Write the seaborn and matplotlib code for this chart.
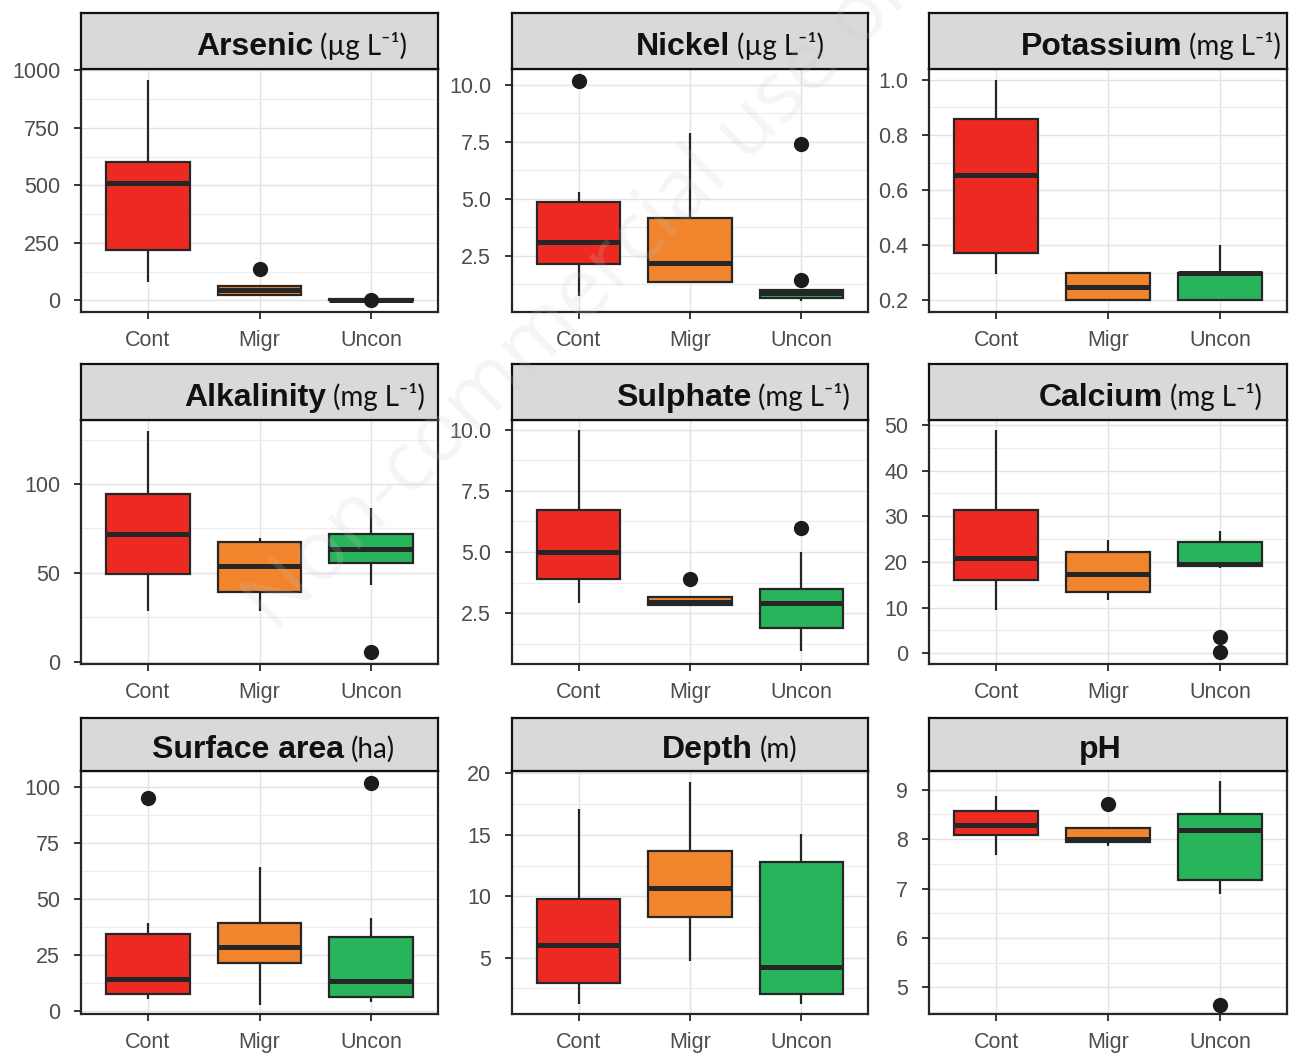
import matplotlib
matplotlib.use("Agg")
import numpy as np
import pandas as pd
import matplotlib.pyplot as plt
import seaborn as sns
from matplotlib.offsetbox import TextArea, HPacker, AnchoredOffsetbox
from matplotlib.ticker import FixedLocator, FixedFormatter

GROUPS = ["Cont", "Migr", "Uncon"]
PALETTE = {"Cont": "#EC2A22", "Migr": "#F0852D", "Uncon": "#28B45A"}

# Five-number summaries per group: lower whisker, Q1, median, Q3, upper whisker
arsenic = {"Cont": [80, 218, 512, 603, 960], "Migr": [20, 22, 44, 61, 64], "Uncon": [0, 1, 3, 5, 9]}
arsenic_out = {"Migr": [134], "Uncon": [2]}

nickel = {"Cont": [0.74, 2.13, 3.09, 4.85, 5.29], "Migr": [1.30, 1.32, 2.16, 4.15, 7.87],
          "Uncon": [0.50, 0.62, 0.84, 0.99, 1.00]}
nickel_out = {"Cont": [10.19], "Uncon": [7.40, 1.43]}

potassium = {"Cont": [0.297, 0.373, 0.655, 0.858, 1.0], "Migr": [0.2, 0.2, 0.248, 0.3, 0.3],
             "Uncon": [0.2, 0.2, 0.3, 0.3, 0.4]}
potassium_out = {}

alkalinity = {"Cont": [28.7, 49.3, 71.9, 94.2, 130], "Migr": [28.7, 39.0, 53.8, 67.2, 69.4],
              "Uncon": [43.2, 55.3, 63.2, 71.9, 86.3]}
alkalinity_out = {"Uncon": [5.3]}

sulphate = {"Cont": [2.91, 3.88, 5.0, 6.72, 10.0], "Migr": [2.84, 2.84, 2.95, 3.17, 3.17],
            "Uncon": [0.96, 1.91, 2.91, 3.47, 5.0]}
sulphate_out = {"Migr": [3.88], "Uncon": [5.97]}

calcium = {"Cont": [9.4, 16.1, 20.9, 31.4, 49.0], "Migr": [11.6, 13.4, 17.4, 22.1, 24.9],
           "Uncon": [18.7, 19.1, 19.6, 24.3, 26.8]}
calcium_out = {"Uncon": [3.5, 0.2]}

surface_area = {"Cont": [5.1, 7.3, 14.3, 34.3, 39.1], "Migr": [2.5, 21.5, 28.7, 39.4, 64.5],
                "Uncon": [4.0, 6.3, 13.3, 33.1, 41.3]}
surface_area_out = {"Cont": [95.1], "Uncon": [102.1]}

depth = {"Cont": [1.2, 2.9, 6.0, 9.8, 17.1], "Migr": [4.7, 8.3, 10.7, 13.7, 19.3],
         "Uncon": [1.2, 2.0, 4.2, 12.8, 15.1]}
depth_out = {}

ph = {"Cont": [7.67, 8.09, 8.28, 8.58, 8.88], "Migr": [7.87, 7.95, 8.0, 8.22, 8.22],
      "Uncon": [6.88, 7.17, 8.19, 8.51, 9.17]}
ph_out = {"Migr": [8.72], "Uncon": [4.65]}

# (name, unit, box data, outliers, y-limits, major ticks, tick labels, minor ticks, title centre)
PANELS = [
    ("Arsenic", "(µg L⁻¹)", arsenic, arsenic_out, (-51, 1006),
     [0, 250, 500, 750, 1000], ["0", "250", "500", "750", "1000"], [125, 375, 625, 875], 0.618),
    ("Nickel", "(µg L⁻¹)", nickel, nickel_out, (0.02, 10.7),
     [2.5, 5.0, 7.5, 10.0], ["2.5", "5.0", "7.5", "10.0"], [1.25, 3.75, 6.25, 8.75], 0.612),
    ("Potassium", "(mg L⁻¹)", potassium, potassium_out, (0.158, 1.039),
     [0.2, 0.4, 0.6, 0.8, 1.0], ["0.2", "0.4", "0.6", "0.8", "1.0"], [0.3, 0.5, 0.7, 0.9], 0.620),
    ("Alkalinity", "(mg L⁻¹)", alkalinity, alkalinity_out, (-1.3, 136),
     [0, 50, 100], ["0", "50", "100"], [25, 75, 125], 0.625),
    ("Sulphate", "(mg L⁻¹)", sulphate, sulphate_out, (0.42, 10.4),
     [2.5, 5.0, 7.5, 10.0], ["2.5", "5.0", "7.5", "10.0"], [1.25, 3.75, 6.25, 8.75], 0.621),
    ("Calcium", "(mg L⁻¹)", calcium, calcium_out, (-2.35, 51.1),
     [0, 10, 20, 30, 40, 50], ["0", "10", "20", "30", "40", "50"], [5, 15, 25, 35, 45], 0.617),
    ("Surface area", "(ha)", surface_area, surface_area_out, (-1.5, 107.3),
     [0, 25, 50, 75, 100], ["0", "25", "50", "75", "100"], [12.5, 37.5, 62.5, 87.5], 0.540),
    ("Depth", "(m)", depth, depth_out, (0.4, 20.2),
     [5, 10, 15, 20], ["5", "10", "15", "20"], [2.5, 7.5, 12.5, 17.5], 0.612),
    ("pH", "", ph, ph_out, (4.46, 9.38),
     [5, 6, 7, 8, 9], ["5", "6", "7", "8", "9"], [4.5, 5.5, 6.5, 7.5, 8.5], 0.478),
]

sns.set_style("white")
plt.rcParams["font.family"] = ["Liberation Sans", "DejaVu Sans"]

W, H = 1296, 1056
fig = plt.figure(figsize=(W / 100, H / 100), dpi=100)

# pixel frames: (strip top, panel top, panel bottom) per row; (left, right) per column
ROWS = [(13, 69, 312), (364, 420, 664), (718, 771, 1014)]
COLS = [(81, 438), (512, 868), (929, 1287)]

DARK = "#262626"
TICK_COL = "#4D4D4D"

for i, (name, unit, boxes, outs, ylim, majors, labels, minors, tx) in enumerate(PANELS):
    r, c = divmod(i, 3)
    st, pt, pb = ROWS[r]
    pl, pr = COLS[c]
    ax = fig.add_axes([pl / W, 1 - pb / H, (pr - pl) / W, (pb - pt) / H])
    sax = fig.add_axes([pl / W, 1 - pt / H, (pr - pl) / W, (pt - st) / H])

    long = pd.DataFrame([(g, v) for g in GROUPS for v in boxes[g]], columns=["group", "value"])
    sns.boxplot(data=long, x="group", y="value", hue="group", order=GROUPS, hue_order=GROUPS,
                palette=PALETTE, saturation=1, whis=(0, 100), width=0.75, showfliers=False,
                showcaps=False, linewidth=1.6, linecolor=DARK, legend=False,
                medianprops=dict(linewidth=3.6, color=DARK, solid_capstyle="butt"),
                ax=ax, zorder=3)

    out_rows = [(g, v) for g in GROUPS for v in outs.get(g, [])]
    if out_rows:
        odf = pd.DataFrame(out_rows, columns=["group", "value"])
        sns.stripplot(data=odf, x="group", y="value", order=GROUPS, jitter=False,
                      color="#1C1C1C", size=11, linewidth=0, ax=ax, zorder=4)

    ax.set_xlim(-0.6, 2.6)
    ax.set_ylim(*ylim)
    ax.set_xlabel("")
    ax.set_ylabel("")
    ax.yaxis.set_major_locator(FixedLocator(majors))
    ax.yaxis.set_major_formatter(FixedFormatter(labels))
    ax.yaxis.set_minor_locator(FixedLocator(minors))
    ax.set_axisbelow(True)
    ax.grid(which="major", axis="both", color="#E3E3E3", linewidth=1.0, zorder=0)
    ax.grid(which="minor", axis="y", color="#EDEDED", linewidth=0.9, zorder=0)
    ax.tick_params(axis="both", which="major", direction="out", length=5, width=1.3,
                   color=DARK, labelsize=15.5, labelcolor=TICK_COL, left=True, bottom=True)
    ax.tick_params(axis="y", which="major", pad=10)
    ax.tick_params(axis="x", which="major", pad=8)
    ax.tick_params(axis="y", which="minor", length=0)
    for sp in ax.spines.values():
        sp.set_visible(True)
        sp.set_color(DARK)
        sp.set_linewidth(1.6)

    # facet strip header
    sax.set_facecolor("#D9D9D9")
    sax.set_xticks([])
    sax.set_yticks([])
    for sp in sax.spines.values():
        sp.set_visible(True)
        sp.set_color("#111111")
        sp.set_linewidth(1.6)
    parts = [TextArea(name, textprops=dict(fontsize=23, fontweight="bold", color="#111111",
                                           family=["Liberation Sans", "DejaVu Sans"]))]
    if unit:
        parts.append(TextArea(unit, textprops=dict(fontsize=20, color="#111111",
                                                   family=["Lato", "DejaVu Sans"])))
    packer = HPacker(children=parts, align="baseline", pad=0, sep=5)
    box = AnchoredOffsetbox(loc="center", child=packer, pad=0, borderpad=0, frameon=False,
                            bbox_to_anchor=(tx, 0.40), bbox_transform=sax.transAxes)
    sax.add_artist(box)

fig.text(0.47, 0.745, "Non-commercial use only", rotation=45, rotation_mode="anchor",
         ha="center", va="center", fontsize=60, color="#C8C8C8", alpha=0.18,
         family=["Open Sans", "DejaVu Sans"], zorder=10)

fig.savefig("out.png", dpi=100, facecolor="white")
